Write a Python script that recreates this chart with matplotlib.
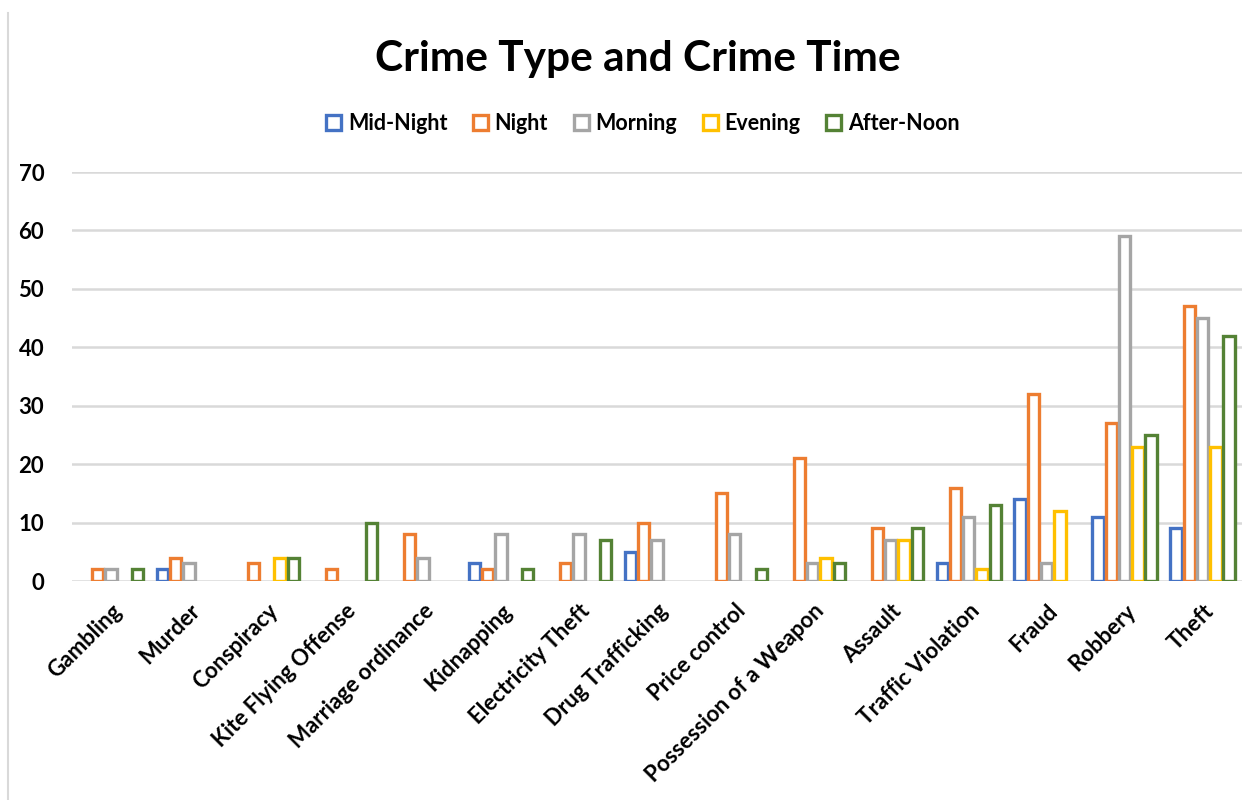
import matplotlib
matplotlib.use("Agg")
import matplotlib.pyplot as plt
import numpy as np

# crime categories and counts per time of day
crimes = ["Gambling", "Murder", "Conspiracy", "Kite Flying Offense",
          "Marriage ordinance", "Kidnapping", "Electricity Theft",
          "Drug Trafficking", "Price control", "Possession of a Weapon",
          "Assault", "Traffic Violation", "Fraud", "Robbery", "Theft"]

mid_night = [0, 2, 0, 0, 0, 3, 0, 5, 0, 0, 0, 3, 14, 11, 9]
night = [2, 4, 3, 2, 8, 2, 3, 10, 15, 21, 9, 16, 32, 27, 47]
morning = [2, 3, 0, 0, 4, 8, 8, 7, 8, 3, 7, 11, 3, 59, 45]
evening = [0, 0, 4, 0, 0, 0, 0, 0, 0, 4, 7, 2, 12, 23, 23]
after_noon = [2, 0, 4, 10, 0, 2, 7, 0, 2, 3, 9, 13, 0, 25, 42]

series = [("Mid-Night", mid_night, "#4472C4"),
          ("Night", night, "#ED7D31"),
          ("Morning", morning, "#A5A5A5"),
          ("Evening", evening, "#FFC000"),
          ("After-Noon", after_noon, "#548235")]

plt.rcParams['font.family'] = ['Lato', 'DejaVu Sans']
plt.rcParams['font.weight'] = 'bold'

fig = plt.figure(figsize=(12.58, 8.0), dpi=100)
ax = fig.add_axes([0.0572, 0.27375, 0.9298, 0.51125])

x = np.arange(len(crimes))
w = 0.17
for i, (name, vals, col) in enumerate(series):
    vals = np.array(vals, dtype=float)
    # zero counts are left out so no flat outline shows on the baseline
    mask = vals > 0
    ax.bar(x[mask] + (i - 2) * w, vals[mask], width=w * 0.86,
           facecolor="white", edgecolor=col, linewidth=2.4, zorder=3)
    ax.bar([np.nan], [np.nan], facecolor="white", edgecolor=col,
           linewidth=2.4, label=name)

ax.set_xlim(-0.5, len(crimes) - 0.5)
ax.set_ylim(0, 70)
ax.set_yticks(range(0, 71, 10))
ax.yaxis.grid(True, color="#d9d9d9", linewidth=1.8, zorder=0)
ax.set_axisbelow(True)
for s in ax.spines.values():
    s.set_visible(False)
ax.tick_params(axis="both", length=0, labelsize=16)
ax.tick_params(axis="y", pad=20)
ax.set_xticks(x)
ax.set_xticklabels(crimes, rotation=45, ha="right", rotation_mode="anchor",
                   fontweight="bold")
ax.tick_params(axis="x", pad=14)
for lab in ax.get_yticklabels():
    lab.set_fontweight("bold")

fig.text(0.507, 0.926, "Crime Type and Crime Time", ha="center", va="center",
         fontsize=30.5, fontweight="bold")

leg = fig.legend(loc="center", bbox_to_anchor=(0.511, 0.846), ncol=5,
                 frameon=False, fontsize=15.5, handlelength=0.7,
                 handleheight=0.7, handletextpad=0.3, columnspacing=1.2)

# thin border line at the left edge of the chart area
fig.add_artist(plt.Line2D([0.0065, 0.0065], [0.0, 0.984],
                          color="#d9d9d9", linewidth=1.5))

fig.savefig("out.png", dpi=100)
